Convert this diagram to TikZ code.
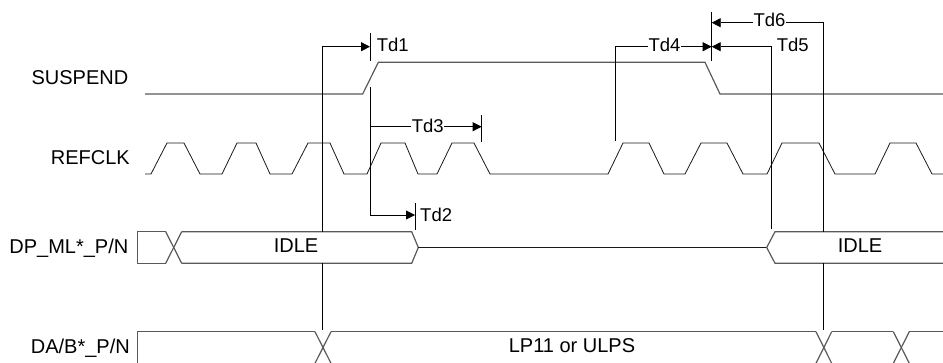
\documentclass[tikz,border=0pt]{standalone}
\usepackage{fontspec}
\setmainfont{Liberation Sans}
\usetikzlibrary{arrows.meta}
\begin{document}
\begin{tikzpicture}[x=1pt,y=-1pt,
  sig/.style={draw=black!65,line width=1.2pt,line join=miter},
  clk/.style={draw=black!90,line width=0.8pt},
  tl/.style={draw=black,line width=0.8pt},
  arr/.style={tl,-{Triangle[length=9pt,width=9pt]}},
  lbl/.style={font=\fontsize{20}{24}\selectfont,inner sep=0pt},
  tdl/.style={font=\fontsize{18.5}{22}\selectfont,inner sep=0.5pt},
  ]
\useasboundingbox (0,0) rectangle (943,362);

% ---- row labels
\node[lbl,anchor=base east] (lsus) at (128.5,84.3) {SUSPEND};
\node[lbl,anchor=base east] (lref) at (130,164.3) {REFCLK};
\node[lbl,anchor=base east] (ldp)  at (128.5,253.5) {DP\_ML*\_P/N};
\node[lbl,anchor=base east] (lda)  at (130,353.3) {DA/B*\_P/N};

% ---- SUSPEND
\draw[sig] (145,94)--(362.7,94)--(378.3,62.3)--(705,62.3)--(720,94)--(943,94);

% ---- REFCLK
\draw[clk] (145,174)--(151,174)--(167,143)--(184,143)--(200,174)--(222,174)--(237,143)--(256,143)--(270,174)--(292,174)--(308,143)--(330,143)--(344,174)--(367,174)--(381,143)--(405,143)--(418,174)--(437,174)--(452,143)--(474,143)--(490,174)--(608,174)--(623,143)--(649,143)--(664,174)--(685,174)--(701,143)--(727,143)--(743,174)--(767,174)--(782,143)--(819,143)--(835,174)--(875,174)--(890,143)--(916,143)--(932,174)--(943,174);

% ---- DP_ML*_P/N
\draw[sig] (165.7,231.7)--(137.3,231.7)--(137.3,263.3)--(165.7,263.3);
\draw[sig] (165.7,231.7)--(181.7,263.3);
\draw[sig] (165.7,263.3)--(181.7,231.7);
\draw[sig] (181.7,231.7)--(411.7,231.7)--(418.3,247.5)--(411.7,263.3)--(181.7,263.3);
\draw[clk] (418.3,247.5)--(766.7,247.5);
\draw[sig] (943,231.7)--(775,231.7)--(766.7,247.5)--(775,263.3)--(943,263.3);
\node[lbl,anchor=base] (idle1) at (296,252.7) {IDLE};
\node[lbl,anchor=base] (idle2) at (860,252.7) {IDLE};

% ---- DA/B*_P/N
\draw[sig] (137.3,363.3)--(137.3,331.7)--(315,331.7);
\draw[sig] (315,331.7)--(331,363.3);
\draw[sig] (331,331.7)--(315,363.3);
\draw[sig] (331,331.7)--(816,331.7);
\draw[sig] (816,331.7)--(831.7,363.3);
\draw[sig] (831.7,331.7)--(816,363.3);
\draw[sig] (831.7,331.7)--(893.3,331.7);
\draw[sig] (893.3,331.7)--(909.3,363.3);
\draw[sig] (909.3,331.7)--(893.3,363.3);
\draw[sig] (909.3,331.7)--(943,331.7);
\node[lbl,anchor=base] (lp) at (572,352.3) {LP11 or ULPS};

% ---- timing coordinates
\coordinate (v1a) at (322.5,231.7);
\coordinate (v1t) at (322.5,46.7);
\coordinate (v1b) at (322.5,263.3);
\coordinate (v1c) at (322.5,329.5);
\coordinate (t1) at (370,46.7);
\coordinate (k1a) at (370,33.3);
\coordinate (k1b) at (370,61);
\coordinate (v2a) at (370,86.7);
\coordinate (v2m) at (370,126.7);
\coordinate (v2b) at (370,215);
\coordinate (t2) at (415,215);
\coordinate (k2a) at (415,203.3);
\coordinate (k2b) at (415,230);
\coordinate (t3) at (481.7,126.7);
\coordinate (k3a) at (481.7,115);
\coordinate (k3b) at (481.7,141.7);
\coordinate (v4a) at (615.7,140.7);
\coordinate (v4t) at (615.7,46.7);
\coordinate (t4) at (711.7,46.7);
\coordinate (t6) at (711.7,22.7);
\coordinate (k4a) at (711.7,11.7);
\coordinate (k4b) at (711.7,61);
\coordinate (v5a) at (771.7,229.3);
\coordinate (v5t) at (771.7,46.7);
\coordinate (v6a) at (823.3,231.7);
\coordinate (v6t) at (823.3,22.7);
\coordinate (v6b) at (823.3,263.3);
\coordinate (v6c) at (823.3,329.5);

% ---- timing labels
\node[tdl,anchor=base west] (td1) at (376.2,51.7) {Td1};
\node[tdl,anchor=base west] (td2) at (419.5,221.7) {Td2};
\node[tdl,anchor=base west] (td3) at (411.2,132.3) {Td3};
\node[tdl,anchor=base west] (td4) at (647.8,51.3) {Td4};
\node[tdl,anchor=base west] (td5) at (776.2,51.7) {Td5};
\node[tdl,anchor=base west] (td6) at (752.8,26.8) {Td6};

% ---- timing lines
\draw[arr] (v1a)--(v1t)--(t1);
\draw[tl] (v1b)--(v1c);
\draw[tl] (k1a)--(k1b);
\draw[arr] (v2a)--(v2b)--(t2);
\draw[tl] (k2a)--(k2b);
\draw[tl] (v2m)--(v2m -| td3.west);
\draw[arr] (td3.east |- t3)--(t3);
\draw[tl] (k3a)--(k3b);
\draw[tl] (v4a)--(v4t)--(v4t -| td4.west);
\draw[arr] (td4.east |- t4)--(t4);
\draw[tl] (k4a)--(k4b);
\draw[arr] (v5a)--(v5t)--(t4);
\draw[tl] (v6a)--(v6t)--(v6t -| td6.east);
\draw[arr] (td6.west |- t6)--(t6);
\draw[tl] (v6b)--(v6c);
\end{tikzpicture}
\end{document}
